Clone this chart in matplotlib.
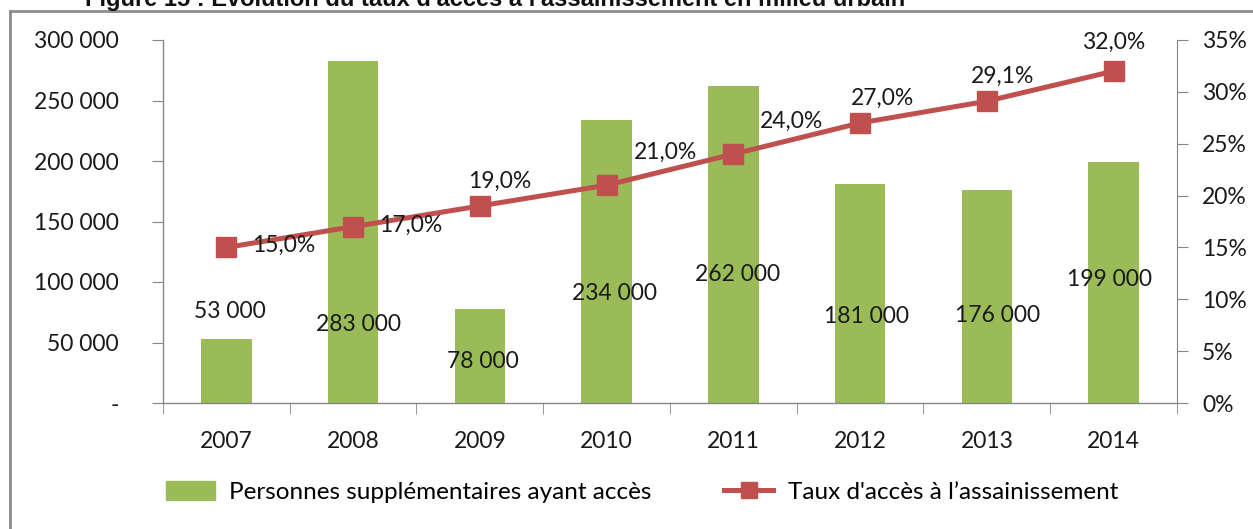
import matplotlib
matplotlib.use("Agg")
import matplotlib.pyplot as plt
from matplotlib.lines import Line2D
from matplotlib.patches import Patch
from matplotlib.ticker import FuncFormatter, FixedLocator, MultipleLocator

# ---- data ----
years = ["2007", "2008", "2009", "2010", "2011", "2012", "2013", "2014"]
personnes = [53000, 283000, 78000, 234000, 262000, 181000, 176000, 199000]
taux = [15.0, 17.0, 19.0, 21.0, 24.0, 27.0, 29.1, 32.0]
bar_labels = ["53 000", "283 000", "78 000", "234 000", "262 000", "181 000", "176 000", "199 000"]
pct_labels = ["15,0%", "17,0%", "19,0%", "21,0%", "24,0%", "27,0%", "29,1%", "32,0%"]

# label placement (as in the original, manually moved labels)
bar_label_y = [76000, 64500, 34700, 90900, 106600, 71900, 72700, 101700]
bar_label_dx = [4, 5, 3, 8, 4, 6, 11, -4]
pct_label_off = [(57, 2), (58, 1), (20, 25), (59, 33), (58, 33), (22, 25), (16, 25), (0, 29)]

W, H = 1253, 529
fig = plt.figure(figsize=(W / 100, H / 100), dpi=100)
fig.patch.set_facecolor("white")

FONT = "Lato"
FS = 16.5
GREEN = "#9BBB59"
RED = "#C0504D"
GRAY = "#868686"
TXT = "#1a1a1a"

ax = fig.add_axes([163 / W, 1 - 403 / H, (1177 - 163) / W, (403 - 40) / H])
x = list(range(len(years)))
ax.bar(x, personnes, width=0.4, color=GREEN, zorder=2)
ax.set_xlim(-0.5, len(years) - 0.5)
ax.set_ylim(0, 300000)
ax.yaxis.set_major_locator(MultipleLocator(50000))
ax.yaxis.set_major_formatter(FuncFormatter(
    lambda v, p: "-" if v == 0 else f"{int(v):,}".replace(",", " ")))

ax.set_xticks(x)
ax.set_xticklabels(years)
ax.xaxis.set_minor_locator(FixedLocator([i - 0.5 for i in range(len(years) + 1)]))
ax.tick_params(axis="x", which="major", length=0, pad=20, labelsize=FS)
ax.tick_params(axis="x", which="minor", length=8, color=GRAY, direction="out")
ax.tick_params(axis="y", length=8, color=GRAY, direction="out", pad=24, labelsize=FS)
for lab in ax.get_xticklabels() + ax.get_yticklabels():
    lab.set_fontfamily(FONT)
    lab.set_color(TXT)

for s in ["top", "right"]:
    ax.spines[s].set_visible(False)
for s in ["left", "bottom"]:
    ax.spines[s].set_color(GRAY)
    ax.spines[s].set_linewidth(1)

for i, (lab, ly, dx) in enumerate(zip(bar_labels, bar_label_y, bar_label_dx)):
    ax.annotate(lab, xy=(i, ly), xytext=(dx, 0), textcoords="offset pixels",
                ha="center", va="center", fontsize=FS, family=FONT,
                color=TXT, zorder=5)

ax2 = ax.twinx()
ax2.plot(x, taux, color=RED, linewidth=3.6, marker="s", markersize=14,
         markerfacecolor=RED, markeredgecolor=RED, zorder=4)
ax2.set_ylim(0, 35)
ax2.yaxis.set_major_locator(MultipleLocator(5))
ax2.yaxis.set_major_formatter(FuncFormatter(lambda v, p: f"{int(round(v))}%"))
ax2.tick_params(axis="y", length=8, color=GRAY, direction="out", pad=10, labelsize=FS)
for lab in ax2.get_yticklabels():
    lab.set_fontfamily(FONT)
    lab.set_color(TXT)
for s in ["top", "left", "bottom"]:
    ax2.spines[s].set_visible(False)
ax2.spines["right"].set_color(GRAY)

for i, (lab, (dx, dy)) in enumerate(zip(pct_labels, pct_label_off)):
    ax2.annotate(lab, xy=(i, taux[i]), xytext=(dx, dy), textcoords="offset pixels",
                 ha="center", va="center", fontsize=FS, family=FONT,
                 color=TXT, zorder=6)

# legend
handles = [Patch(facecolor=GREEN, edgecolor=GREEN),
           Line2D([0], [0], color=RED, linewidth=3.6, marker="s", markersize=12,
                  markerfacecolor=RED, markeredgecolor=RED)]
labels = ["Personnes supplémentaires ayant accès", "Taux d'accès à l’assainissement"]
fig.legend(handles, labels, loc="center", bbox_to_anchor=(642 / W, 1 - 492 / H),
           ncol=2, frameon=False, prop={"family": FONT, "size": 17.5},
           handlelength=2.0, handleheight=0.8, columnspacing=3.0, handletextpad=0.6)

# outer frame
fig.add_artist(Line2D([10 / W, 10 / W], [0, 1 - 11 / H], transform=fig.transFigure,
                      color="#8c8c8c", linewidth=2))
fig.add_artist(Line2D([10 / W, 1], [1 - 11 / H, 1 - 11 / H], transform=fig.transFigure,
                      color="#8c8c8c", linewidth=2))

# title (partially cropped at the top, as in the reference)
fig.text(85 / W, 1 - 6 / H,
         "Figure 15 : Evolution du taux d'accès à l'assainissement en milieu urbain",
         ha="left", va="baseline", fontsize=17, fontweight="bold",
         family="Liberation Sans", color="#111111")

fig.savefig("out.png", dpi=100, facecolor="white")
